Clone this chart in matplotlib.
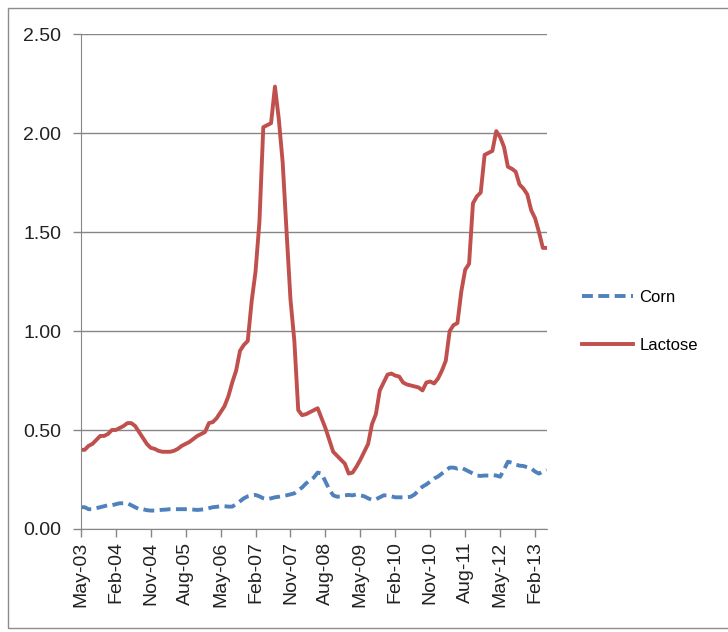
import numpy as np
import pandas as pd
import matplotlib
matplotlib.use("Agg")
import matplotlib.pyplot as plt
from matplotlib.patches import Rectangle

# monthly series, May-03 .. May-13
months = pd.date_range("2003-05-01", periods=121, freq="MS")

lactose = [0.40, 0.40, 0.42, 0.43, 0.45, 0.47, 0.47, 0.48, 0.50, 0.50,
           0.51, 0.52, 0.535, 0.535, 0.52, 0.49, 0.46, 0.43, 0.41, 0.405,
           0.395, 0.39, 0.39, 0.39, 0.395, 0.405, 0.42, 0.43, 0.44, 0.455,
           0.47, 0.48, 0.49, 0.535, 0.54, 0.56, 0.59, 0.62, 0.67, 0.74,
           0.80, 0.90, 0.93, 0.95, 1.15, 1.30, 1.55, 2.03, 2.04, 2.05,
           2.235, 2.07, 1.85, 1.50, 1.16, 0.95, 0.60, 0.575, 0.58, 0.59,
           0.60, 0.61, 0.56, 0.51, 0.45, 0.39, 0.37, 0.35, 0.33, 0.28,
           0.285, 0.315, 0.35, 0.39, 0.43, 0.53, 0.58, 0.70, 0.74, 0.78,
           0.785, 0.775, 0.77, 0.74, 0.73, 0.725, 0.72, 0.715, 0.70, 0.74,
           0.745, 0.735, 0.76, 0.80, 0.85, 1.00, 1.03, 1.04, 1.20, 1.31,
           1.34, 1.645, 1.68, 1.70, 1.89, 1.90, 1.91, 2.01, 1.98, 1.93,
           1.83, 1.82, 1.805, 1.74, 1.72, 1.69, 1.61, 1.57, 1.50, 1.42,
           1.42]

corn = [0.11, 0.11, 0.10, 0.10, 0.105, 0.11, 0.115, 0.12, 0.12, 0.125,
        0.13, 0.13, 0.13, 0.12, 0.11, 0.10, 0.10, 0.095, 0.093, 0.093,
        0.095, 0.097, 0.098, 0.10, 0.10, 0.10, 0.10, 0.10, 0.10, 0.098,
        0.096, 0.098, 0.10, 0.105, 0.11, 0.112, 0.115, 0.115, 0.113, 0.113,
        0.125, 0.14, 0.155, 0.165, 0.17, 0.172, 0.165, 0.155, 0.15, 0.155,
        0.16, 0.163, 0.167, 0.17, 0.175, 0.18, 0.195, 0.21, 0.23, 0.245,
        0.26, 0.285, 0.28, 0.24, 0.20, 0.17, 0.163, 0.165, 0.17, 0.172,
        0.17, 0.175, 0.17, 0.165, 0.155, 0.147, 0.15, 0.16, 0.17, 0.17,
        0.165, 0.16, 0.16, 0.16, 0.16, 0.163, 0.175, 0.195, 0.214, 0.225,
        0.24, 0.255, 0.265, 0.28, 0.295, 0.31, 0.31, 0.305, 0.31, 0.30,
        0.29, 0.28, 0.27, 0.268, 0.27, 0.27, 0.272, 0.27, 0.264, 0.30,
        0.34, 0.335, 0.325, 0.32, 0.318, 0.312, 0.306, 0.29, 0.28, 0.29,
        0.298]

labels = [m.strftime("%b-%y") for m in months]
yticks = [0.0, 0.5, 1.0, 1.5, 2.0, 2.5]

plt.rcParams['font.family'] = ['Liberation Sans', 'DejaVu Sans']

fig = plt.figure(figsize=(7.28, 6.32), dpi=100)
ax = fig.add_axes([0.111, 0.163, 0.640, 0.783])

# outer chart border
fig.patches.append(Rectangle((8 / 728, 4 / 632), 1.0, 620 / 632, transform=fig.transFigure,
                             fill=False, edgecolor='#8c8c8c', linewidth=1.0))

x = np.arange(len(months))
ax.plot(x, corn, color='#4F81BD', linewidth=2.8, linestyle=(0, (2.8, 1.4)), label='Corn')
ax.plot(x, lactose, color='#C0504D', linewidth=2.8, label='Lactose')

ax.set_xlim(0, len(months) - 1)
ax.set_ylim(0, 2.5)
ax.set_yticks(yticks)
ax.set_yticklabels(["%.2f" % v for v in yticks], fontsize=14, color='#222222')
ax.yaxis.grid(True, color='#868686', linewidth=1.0)
ax.set_axisbelow(True)

tick_pos = x[::9]
ax.set_xticks(tick_pos)
ax.set_xticklabels([labels[i] for i in tick_pos], rotation=90, fontsize=14, color='#222222')

for s in ['top', 'right']:
    ax.spines[s].set_visible(False)
ax.spines['left'].set_color('#868686')
ax.spines['bottom'].set_color('#868686')
ax.tick_params(axis='both', color='#868686', length=6, direction='out', width=1.0)
ax.tick_params(axis='y', pad=8)
ax.tick_params(axis='x', pad=3)

ax.legend(loc='center left', bbox_to_anchor=(1.043, 0.419), frameon=False, fontsize=12,
          handlelength=3.05, labelspacing=2.0, handletextpad=0.42)

fig.savefig("out.png", dpi=100)
